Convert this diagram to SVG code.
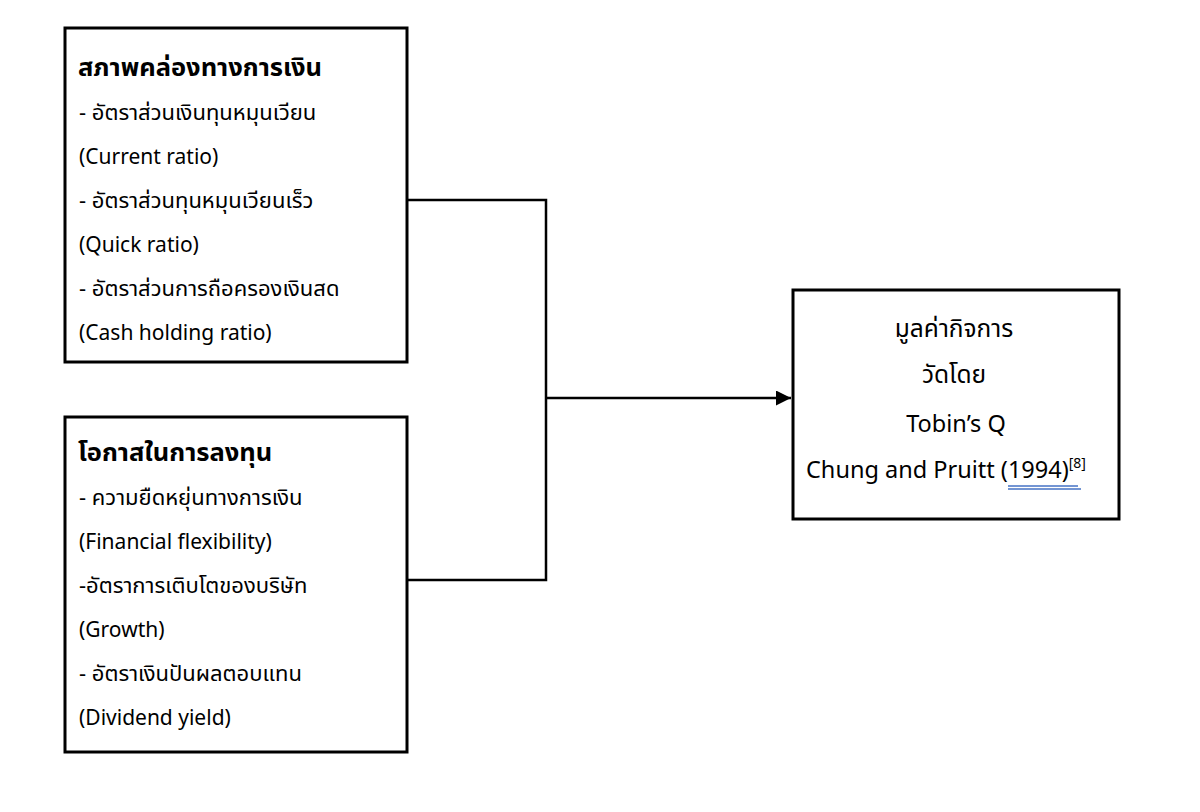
<svg xmlns="http://www.w3.org/2000/svg" width="1200" height="812" viewBox="0 0 1200 812">
<defs>
<style>
.box{fill:#fff;stroke:#000;stroke-width:3}
.t{font-family:"Noto Sans","Noto Sans Thai","DejaVu Sans",sans-serif;font-size:22px;fill:#000}
.e{font-family:"Noto Sans","Noto Sans Thai","DejaVu Sans",sans-serif;font-size:21px;fill:#000}
.h{font-family:"Noto Sans","Noto Sans Thai","DejaVu Sans",sans-serif;font-size:25.5px;font-weight:bold;fill:#000}
.c{font-family:"Noto Sans","Noto Sans Thai","DejaVu Sans",sans-serif;font-size:23.5px;fill:#000;text-anchor:middle}
.ct{font-size:24.5px}
.ln{fill:none;stroke:#000;stroke-width:2.5}
.ul{stroke:#4472C4;stroke-width:1.3}
</style>
<marker id="arr" viewBox="0 0 10 10" refX="10" refY="5" markerWidth="6" markerHeight="6" markerUnits="strokeWidth" orient="auto">
<path d="M0,0 L10,5 L0,10 z" fill="#000"/>
</marker>
</defs>
<rect width="1200" height="812" fill="#fff"/>
<g id="connectors">
<polyline class="ln" points="408,200 546,200 546,580 408,580"/>
<line class="ln" x1="546" y1="398" x2="791" y2="398" marker-end="url(#arr)"/>
</g>
<g id="liquidity">
<rect class="box" x="65" y="28" width="342" height="334"/>
<text class="h" x="78" y="76">สภาพคล่องทางการเงิน</text>
<text class="t" x="79" y="120">- อัตราส่วนเงินทุนหมุนเวียน</text>
<text class="e" x="79" y="164">(Current ratio)</text>
<text class="t" x="79" y="208">- อัตราส่วนทุนหมุนเวียนเร็ว</text>
<text class="e" x="79" y="252">(Quick ratio)</text>
<text class="t" x="79" y="296">- อัตราส่วนการถือครองเงินสด</text>
<text class="e" x="79" y="340">(Cash holding ratio)</text>
</g>
<g id="investment">
<rect class="box" x="65" y="417" width="342" height="335"/>
<text class="h" x="78" y="461">โอกาสในการลงทุน</text>
<text class="t" x="79" y="505">- ความยืดหยุ่นทางการเงิน</text>
<text class="e" x="79" y="549">(Financial flexibility)</text>
<text class="t" x="79" y="593">-อัตราการเติบโตของบริษัท</text>
<text class="e" x="79" y="637">(Growth)</text>
<text class="t" x="79" y="681">- อัตราเงินปันผลตอบแทน</text>
<text class="e" x="79" y="725">(Dividend yield)</text>
</g>
<g id="firmvalue">
<rect class="box" x="793" y="290" width="326" height="229"/>
<text class="c ct" x="954" y="337">มูลค่ากิจการ</text>
<text class="c ct" x="954" y="383">วัดโดย</text>
<text class="c" x="956" y="432">Tobin’s Q</text>
<text class="c" x="946" y="478">Chung and Pruitt (1994)<tspan font-size="14" dy="-10">[8]</tspan></text>
<line class="ul" x1="1008" y1="486" x2="1078" y2="486"/>
<line class="ul" x1="1008" y1="489" x2="1081" y2="489"/>
</g>
</svg>
